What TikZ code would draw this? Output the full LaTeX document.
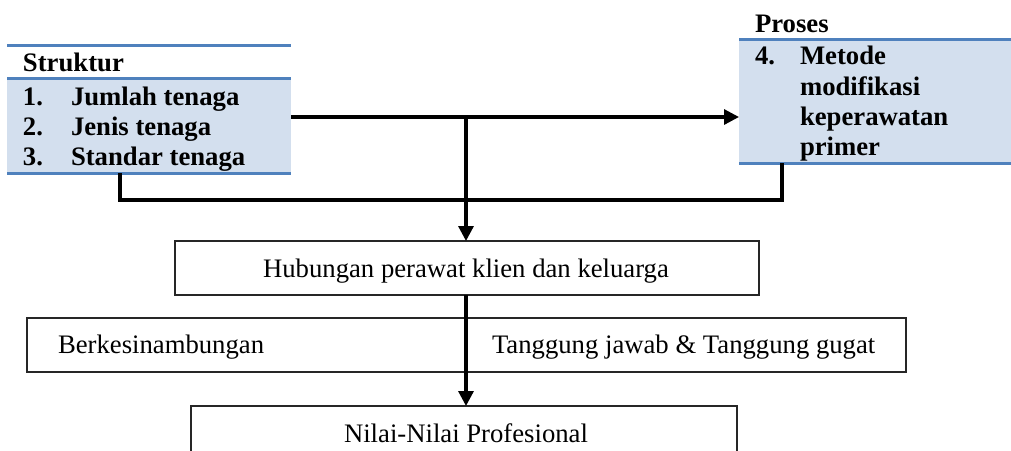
\documentclass[tikz,border=0pt]{standalone}
\usepackage{fontspec}
\setmainfont{Liberation Serif}
\usetikzlibrary{arrows.meta}
\definecolor{tblue}{HTML}{4F81BD}
\definecolor{tfill}{HTML}{D3DFEE}
\begin{document}
\begin{tikzpicture}[x=1pt,y=-1pt,
  every node/.style={font=\fontsize{26.7}{30}\selectfont, inner sep=0pt, outer sep=0pt},
  tline/.style={draw=tblue, line width=3pt},
  conn/.style={line width=3.2pt},
  arr/.style={conn, -{Triangle[width=15pt,length=15pt]}},
  boxframe/.style={draw=black!85, line width=1.5pt, anchor=north west},
  lbl/.style={anchor=base west},
  blbl/.style={anchor=base west, font=\fontsize{26.7}{30}\selectfont\bfseries},
  tblbody/.style={fill=tfill, anchor=north west}]
\useasboundingbox (0,0) rectangle (1011,450);
% Struktur table
\node[tblbody, minimum width=284pt, minimum height=95pt] (S) at (7,78) {};
\draw[tline] (7,45) -- (291,45);
\draw[tline] (S.north west) -- (S.north east);
\draw[tline] (S.south west) -- (S.south east);
\node[blbl] (st) at (23,71) {Struktur};
\node[blbl] (s1n) at (23,105) {1.};
\node[blbl] (s1) at (71,105) {Jumlah tenaga};
\node[blbl] (s2n) at (23,135) {2.};
\node[blbl] (s2) at (71,135) {Jenis tenaga};
\node[blbl] (s3n) at (23,165) {3.};
\node[blbl] (s3) at (71,165) {Standar tenaga};
% Proses table
\node[tblbody, minimum width=272pt, minimum height=124pt] (P) at (739,39) {};
\draw[tline] (P.north west) -- (P.north east);
\draw[tline] (P.south west) -- (P.south east);
\node[blbl] (pt) at (755,32) {Proses};
\node[blbl] (p4n) at (755,64) {4.};
\node[blbl] (p4a) at (800,64) {Metode};
\node[blbl] (p4b) at (800,95) {modifikasi};
\node[blbl] (p4c) at (800,125) {keperawatan};
\node[blbl] (p4d) at (800,155) {primer};
% Boxes
\node[boxframe, minimum width=584pt, minimum height=54pt] (H) at (175,241) {};
\node[anchor=base] (ht) at (466,277) {Hubungan perawat klien dan keluarga};
\node[boxframe, minimum width=879pt, minimum height=54pt] (M) at (27,318) {};
\node[lbl] (m1) at (58,353) {Berkesinambungan};
\node[lbl] (m2) at (492,353) {Tanggung jawab \& Tanggung gugat};
\node[boxframe, minimum width=546pt, minimum height=60pt] (N) at (191,406) {};
\node[anchor=base] (nt) at (466,442) {Nilai-Nilai Profesional};
% Connectors
\coordinate (j) at (466,117);
\coordinate (b1) at (120,200);
\coordinate (b2) at (782,200);
\draw[arr] (S.east |- j) -- (P.west |- j);
\draw[conn] (S.south -| b1) -- (b1) -- (b2) -- (P.south -| b2);
\draw[arr] (j) -- (H.north -| j);
\draw[arr] (H.south -| j) -- (N.north -| j);
\end{tikzpicture}
\end{document}
